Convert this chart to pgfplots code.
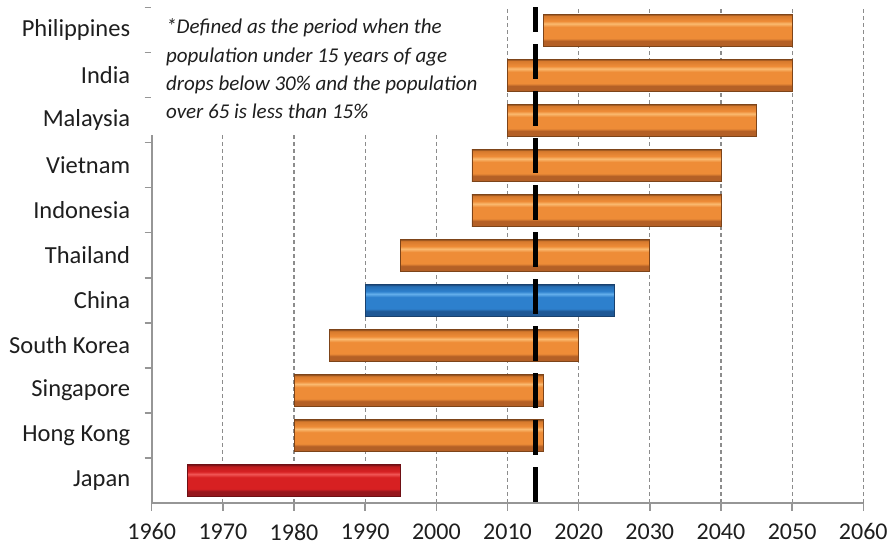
\documentclass[border=0pt]{standalone}
\usepackage{fontspec}
\setmainfont{Carlito}
\usepackage{pgfplots}
\pgfplotsset{compat=1.18}

\definecolor{labelcol}{RGB}{30,30,30}
\definecolor{axisgray}{RGB}{150,150,150}
\definecolor{gridgray}{RGB}{140,140,140}
% orange
\definecolor{oedge}{RGB}{125,68,25}
\definecolor{odark}{RGB}{180,96,38}
\definecolor{omain}{RGB}{238,140,55}
\definecolor{olight}{RGB}{250,186,112}
\definecolor{otop}{RGB}{215,122,45}
% blue
\definecolor{bedge}{RGB}{25,65,110}
\definecolor{bdark}{RGB}{30,88,150}
\definecolor{bmain}{RGB}{45,128,205}
\definecolor{blight}{RGB}{100,175,235}
\definecolor{btop}{RGB}{38,110,180}
% red
\definecolor{redge}{RGB}{110,15,20}
\definecolor{rdark}{RGB}{150,22,28}
\definecolor{rmain}{RGB}{215,32,34}
\definecolor{rlight}{RGB}{240,85,85}
\definecolor{rtop}{RGB}{190,28,30}

\pgfdeclareverticalshading{orangeshade}{100bp}{color(0bp)=(oedge); color(25bp)=(oedge); color(26.5bp)=(odark); color(33bp)=(odark); color(37bp)=(omain); color(55bp)=(omain); color(60bp)=(olight); color(64bp)=(omain); color(72bp)=(otop); color(75bp)=(oedge); color(100bp)=(oedge)}
\pgfdeclareverticalshading{blueshade}{100bp}{color(0bp)=(bedge); color(25bp)=(bedge); color(26.5bp)=(bdark); color(33bp)=(bdark); color(37bp)=(bmain); color(55bp)=(bmain); color(60bp)=(blight); color(64bp)=(bmain); color(72bp)=(btop); color(75bp)=(bedge); color(100bp)=(bedge)}
\pgfdeclareverticalshading{redshade}{100bp}{color(0bp)=(redge); color(25bp)=(redge); color(26.5bp)=(rdark); color(33bp)=(rdark); color(37bp)=(rmain); color(55bp)=(rmain); color(60bp)=(rlight); color(64bp)=(rmain); color(72bp)=(rtop); color(75bp)=(redge); color(100bp)=(redge)}

\begin{document}
\begin{tikzpicture}
\begin{axis}[
  at={(0,0)}, anchor=south west,
  scale only axis, width=711.6pt, height=495.5pt,
  xmin=1960, xmax=2060, ymin=-0.5, ymax=10.5,
  clip=false,
  axis lines=left,
  axis line style={-, draw=axisgray, line width=1.8pt},
  xtick={1960,1970,...,2060},
  ytick={0,...,10},
  yticklabels={Japan,Hong Kong,Singapore,South Korea,China,Thailand,Indonesia,Vietnam,Malaysia,India,Philippines},
  minor ytick={0.5,1.5,...,10.5},
  tick align=outside,
  major tick length=8pt,
  minor tick length=7pt,
  tick style={draw=axisgray, line width=1.5pt},
  major y tick style={draw=none},
  xmajorgrids,
  major grid style={draw=gridgray, line width=1.1pt, dash pattern=on 4pt off 3pt},
  ticklabel style={text=labelcol},
  xticklabel style={font=\fontsize{24}{28}\selectfont, inner sep=0pt, yshift=-12.5pt},
  yticklabel style={font=\fontsize{24.5}{28}\selectfont, xshift=-10pt},
  /pgf/number format/1000 sep={},
  /pgf/number format/assume math mode=true,
]
% bars: start, end, row (Japan=0 ... Philippines=10)
\addplot[shading=orangeshade, draw=oedge, line width=0.8pt] coordinates {(2015,9.645) (2050,9.645) (2050,10.355) (2015,10.355)} -- cycle;
\addplot[shading=orangeshade, draw=oedge, line width=0.8pt] coordinates {(2010,8.645) (2050,8.645) (2050,9.355) (2010,9.355)} -- cycle;
\addplot[shading=orangeshade, draw=oedge, line width=0.8pt] coordinates {(2010,7.645) (2045,7.645) (2045,8.355) (2010,8.355)} -- cycle;
\addplot[shading=orangeshade, draw=oedge, line width=0.8pt] coordinates {(2005,6.645) (2040,6.645) (2040,7.355) (2005,7.355)} -- cycle;
\addplot[shading=orangeshade, draw=oedge, line width=0.8pt] coordinates {(2005,5.645) (2040,5.645) (2040,6.355) (2005,6.355)} -- cycle;
\addplot[shading=orangeshade, draw=oedge, line width=0.8pt] coordinates {(1995,4.645) (2030,4.645) (2030,5.355) (1995,5.355)} -- cycle;
\addplot[shading=blueshade, draw=bedge, line width=0.8pt] coordinates {(1990,3.645) (2025,3.645) (2025,4.355) (1990,4.355)} -- cycle;
\addplot[shading=orangeshade, draw=oedge, line width=0.8pt] coordinates {(1985,2.645) (2020,2.645) (2020,3.355) (1985,3.355)} -- cycle;
\addplot[shading=orangeshade, draw=oedge, line width=0.8pt] coordinates {(1980,1.645) (2015,1.645) (2015,2.355) (1980,2.355)} -- cycle;
\addplot[shading=orangeshade, draw=oedge, line width=0.8pt] coordinates {(1980,0.645) (2015,0.645) (2015,1.355) (1980,1.355)} -- cycle;
\addplot[shading=redshade, draw=redge, line width=0.8pt] coordinates {(1965,-0.355) (1995,-0.355) (1995,0.355) (1965,0.355)} -- cycle;
% current year marker
\addplot[black, line width=5pt, dash pattern=on 35pt off 12pt] coordinates {(2014,-0.47) (2014,10.5)};
% note box
\fill[white] (axis cs:1959.85,7.67) rectangle (axis cs:2008.9,10.72);
\node[anchor=north west, inner sep=0pt, align=left, text=labelcol,
      font=\itshape\fontsize{21}{28.3}\selectfont] at (axis cs:1962.0,10.25)
  {*Defined as the period when the\\population under 15 years of age\\drops below 30\% and the population\\over 65 is less than 15\%};
\end{axis}
\pgfresetboundingbox
\path[use as bounding box] (-151.7pt,-43pt) rectangle (737.3pt,503pt);
\end{tikzpicture}
\end{document}
